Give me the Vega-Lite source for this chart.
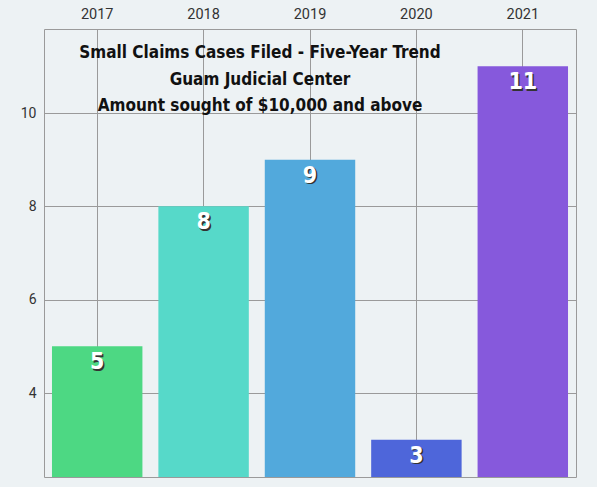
{
  "$schema": "https://vega.github.io/schema/vega-lite/v6.json",
  "autosize": "none",
  "width": 532,
  "height": 448,
  "padding": {"left": 44, "top": 29, "right": 21, "bottom": 10},
  "background": "#edf2f4",
  "title": {
    "text": ["Small Claims Cases  Filed - Five-Year Trend", "Guam Judicial Center", "Amount sought of $10,000 and above"],
    "anchor": "middle",
    "frame": "group",
    "font": "DejaVu Sans Condensed",
    "fontWeight": "bold",
    "fontSize": 17,
    "lineHeight": 26.5,
    "color": "#111111",
    "baseline": "top",
    "dx": -50,
    "dy": 113
  },
  "data": {
    "values": [
      {"year": "2017", "cases": 5},
      {"year": "2018", "cases": 8},
      {"year": "2019", "cases": 9},
      {"year": "2020", "cases": 3},
      {"year": "2021", "cases": 11}
    ]
  },
  "encoding": {
    "x": {
      "field": "year",
      "type": "ordinal",
      "title": null,
      "scale": {"paddingInner": 0.15, "paddingOuter": 0.075},
      "axis": {
        "orient": "top",
        "labelAngle": 0,
        "ticks": false,
        "domain": false,
        "grid": true,
        "bandPosition": 0.5,
        "gridColor": "#9a9a9a",
        "gridWidth": 1,
        "labelFont": "Roboto",
        "labelFontSize": 14.5,
        "labelColor": "#333333",
        "labelPadding": 8
      }
    },
    "y": {
      "field": "cases",
      "type": "quantitative",
      "title": null,
      "scale": {"domain": [2.2, 11.8], "nice": false, "zero": false},
      "axis": {
        "values": [4, 6, 8, 10],
        "ticks": false,
        "domain": false,
        "gridColor": "#9a9a9a",
        "gridWidth": 1,
        "labelFont": "Roboto",
        "labelFontSize": 14,
        "labelColor": "#333333",
        "labelPadding": 8
      }
    }
  },
  "layer": [
    {
      "mark": {"type": "bar", "clip": true},
      "encoding": {
        "y2": {"datum": 2.2},
        "color": {
          "field": "year",
          "type": "ordinal",
          "legend": null,
          "scale": {"range": ["#4dd883", "#56d9c9", "#52a9dc", "#4e66da", "#8659dc"]}
        }
      }
    },
    {
      "mark": {
        "type": "text",
        "font": "DejaVu Sans Condensed",
        "fontWeight": "bold",
        "fontSize": 23,
        "baseline": "middle",
        "color": "#333333",
        "dx": 1.5,
        "dy": 17.5
      },
      "encoding": {"text": {"field": "cases", "type": "quantitative"}}
    },
    {
      "mark": {
        "type": "text",
        "font": "DejaVu Sans Condensed",
        "fontWeight": "bold",
        "fontSize": 23,
        "baseline": "middle",
        "color": "#ffffff",
        "dy": 16
      },
      "encoding": {"text": {"field": "cases", "type": "quantitative"}}
    }
  ],
  "config": {
    "view": {"stroke": "#9a9a9a", "strokeWidth": 1, "fill": "#edf2f4"}
  }
}
